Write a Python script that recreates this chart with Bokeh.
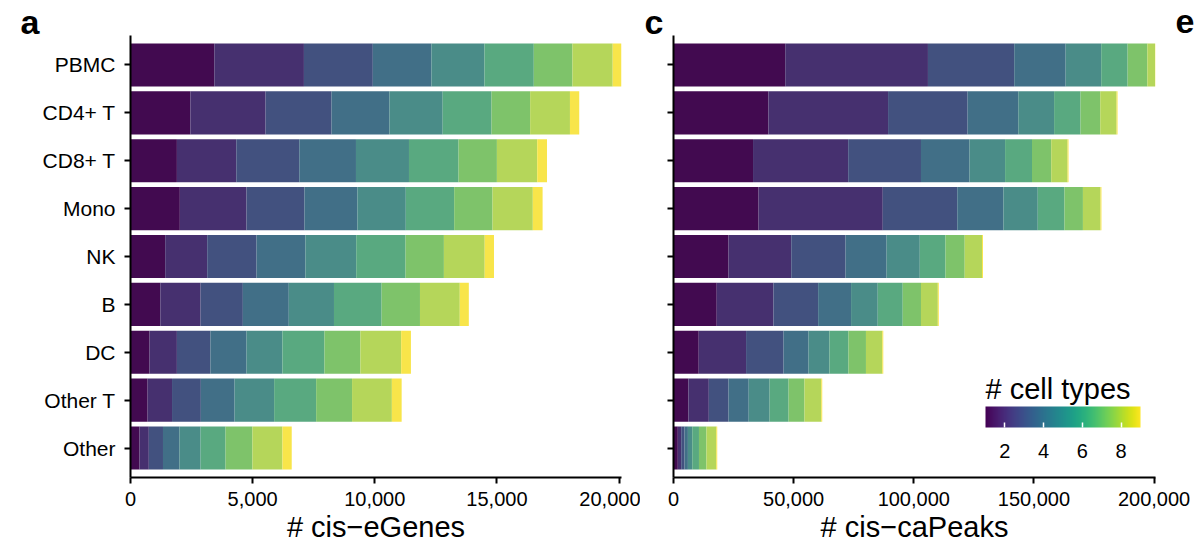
from bokeh.plotting import figure
from bokeh.layouts import row, column
from bokeh.core.properties import value
from bokeh.models import (ColumnDataSource, FactorRange, Range1d, FixedTicker,
                          NumeralTickFormatter, ColorBar, LinearColorMapper)
from bokeh.palettes import Viridis256
from bokeh.embed import file_html
from bokeh.resources import INLINE

FONT = "Liberation Sans"

cell_types = ["PBMC", "CD4+ T", "CD8+ T", "Mono", "NK", "B", "DC", "Other T", "Other"]
n_cell_types = ["1", "2", "3", "4", "5", "6", "7", "8", "9"]

# cis-eGenes per cell type, split by number of cell types sharing them (1..9)
egenes_pbmc = [3430, 3670, 2820, 2400, 2170, 2020, 1580, 1650, 420]
egenes_cd4 = [2450, 3080, 2700, 2370, 2180, 2000, 1580, 1630, 380]
egenes_cd8 = [1900, 2430, 2580, 2320, 2170, 2030, 1570, 1650, 400]
egenes_mono = [2020, 2730, 2370, 2170, 1980, 1980, 1570, 1650, 400]
egenes_nk = [1420, 1720, 2020, 2000, 2080, 2020, 1570, 1670, 380]
egenes_b = [1220, 1650, 1730, 1880, 1850, 1950, 1570, 1630, 370]
egenes_dc = [780, 1120, 1370, 1480, 1470, 1720, 1470, 1670, 400]
egenes_other_t = [700, 1000, 1180, 1380, 1620, 1720, 1470, 1630, 400]
egenes_other = [370, 380, 580, 670, 870, 1020, 1100, 1230, 380]

# cis-caPeaks, same split
capeaks_pbmc = [46500, 59400, 35900, 21400, 14800, 11000, 8200, 3200, 300]
capeaks_cd4 = [39500, 49800, 33100, 21100, 14900, 11000, 8200, 6800, 400]
capeaks_cd8 = [33100, 39600, 30300, 20200, 14800, 11200, 8000, 6800, 400]
capeaks_mono = [35400, 51700, 31000, 19200, 14300, 11100, 7700, 7300, 400]
capeaks_nk = [22900, 26100, 22600, 17100, 13800, 10700, 8000, 7200, 400]
capeaks_b = [18000, 23600, 18600, 13700, 11100, 10400, 7600, 7000, 400]
capeaks_dc = [10500, 19700, 15600, 10400, 8700, 7900, 7300, 6800, 400]
capeaks_other_t = [6200, 8500, 8200, 8400, 8700, 7900, 6600, 7000, 400]
capeaks_other = [1800, 1400, 1400, 1400, 1800, 2800, 3100, 4100, 400]

egene_ticks = [0, 5000, 10000, 15000, 20000]
capeak_ticks = [0, 50000, 100000, 150000, 200000]
legend_ticks = [2, 4, 6, 8]

panel_letters = ["a", "c", "e"]

bar_colors = ["#420a50", "#46306f", "#42517f", "#416f87", "#4a8c88",
              "#59a980", "#7ec36a", "#b5d65a", "#f8e54a"]


def stacked_panel(rows, x_end, ticks, x_label, width, border_left, border_right, show_names):
    cats = cell_types[::-1]
    data = {"cell_type": cats}
    for i, k in enumerate(n_cell_types):
        data[k] = [rows[c][i] for c in cats]
    source = ColumnDataSource(data)

    p = figure(y_range=FactorRange(factors=cats, range_padding=0.115, range_padding_units="absolute"),
               x_range=Range1d(0, x_end), width=width, height=510,
               min_border_left=border_left, min_border_right=border_right,
               min_border_top=0, min_border_bottom=67,
               output_backend="svg", toolbar_location=None)
    p.hbar_stack(n_cell_types, y="cell_type", height=0.9, fill_color=bar_colors,
                 line_color=None, source=source)

    p.grid.visible = False
    p.outline_line_color = None
    for ax in (p.xaxis, p.yaxis):
        ax.axis_line_width = 2
        ax.axis_line_color = "black"
        ax.major_tick_line_width = 2
        ax.major_tick_line_color = "black"
        ax.major_tick_out = 6
        ax.major_tick_in = 0
        ax.minor_tick_line_color = None
        ax.major_label_text_font = FONT
        ax.major_label_text_color = "black"

    p.xaxis.ticker = FixedTicker(ticks=ticks)
    p.xaxis.formatter = NumeralTickFormatter(format="0,0")
    p.xaxis.major_label_text_font_size = "20px"
    p.xaxis.major_label_standoff = 8
    p.xaxis.axis_label = x_label
    p.xaxis.axis_label_text_font = FONT
    p.xaxis.axis_label_text_font_size = "29px"
    p.xaxis.axis_label_text_font_style = "normal"
    p.xaxis.axis_label_text_color = "black"
    p.xaxis.axis_label_standoff = 2

    p.yaxis.major_label_text_font_size = "21px"
    p.yaxis.major_label_standoff = 9
    if not show_names:
        p.yaxis.major_label_text_color = None
    return p


egenes = dict(zip(cell_types, [egenes_pbmc, egenes_cd4, egenes_cd8, egenes_mono, egenes_nk,
                               egenes_b, egenes_dc, egenes_other_t, egenes_other]))
capeaks = dict(zip(cell_types, [capeaks_pbmc, capeaks_cd4, capeaks_cd8, capeaks_mono, capeaks_nk,
                                capeaks_b, capeaks_dc, capeaks_other_t, capeaks_other]))

pa = stacked_panel(egenes, 20100, egene_ticks, "# cis\u2212eGenes", 640, 130, 19, True)
pc = stacked_panel(capeaks, 200600, capeak_ticks, "# cis\u2212caPeaks", 560, 33, 45, False)

mapper = LinearColorMapper(palette=Viridis256, low=1, high=9)
cbar = ColorBar(color_mapper=mapper, orientation="horizontal", location=(312, 17),
                width=155, height=21, padding=0,
                ticker=FixedTicker(ticks=legend_ticks),
                title="# cell types", title_text_font=FONT, title_text_font_size="29px",
                title_text_font_style="normal", title_text_color="black", title_standoff=4,
                major_label_text_font=FONT, major_label_text_font_size="20px",
                major_label_text_color="black", label_standoff=16,
                major_tick_line_color="white", major_tick_line_width=1.5,
                major_tick_in=5, major_tick_out=0, minor_tick_line_color=None,
                bar_line_color=None, border_line_color=None, background_fill_color=None)
pc.add_layout(cbar)

# strip above the panels holding the panel letters (pixel coordinates)
strip = figure(width=1200, height=35, x_range=Range1d(0, 1200), y_range=Range1d(0, 35),
               min_border=0, output_backend="svg", toolbar_location=None)
strip.axis.visible = False
strip.grid.visible = False
strip.outline_line_color = None
strip.text(x=[20, 644, 1175], y=[14, 14, 14], text=panel_letters,
           text_font=value(FONT), text_font_size="34px", text_font_style="bold",
           text_baseline="middle", text_color="black")

layout = column(strip, row(pa, pc))
open("out.html", "w").write(file_html(layout, INLINE))
